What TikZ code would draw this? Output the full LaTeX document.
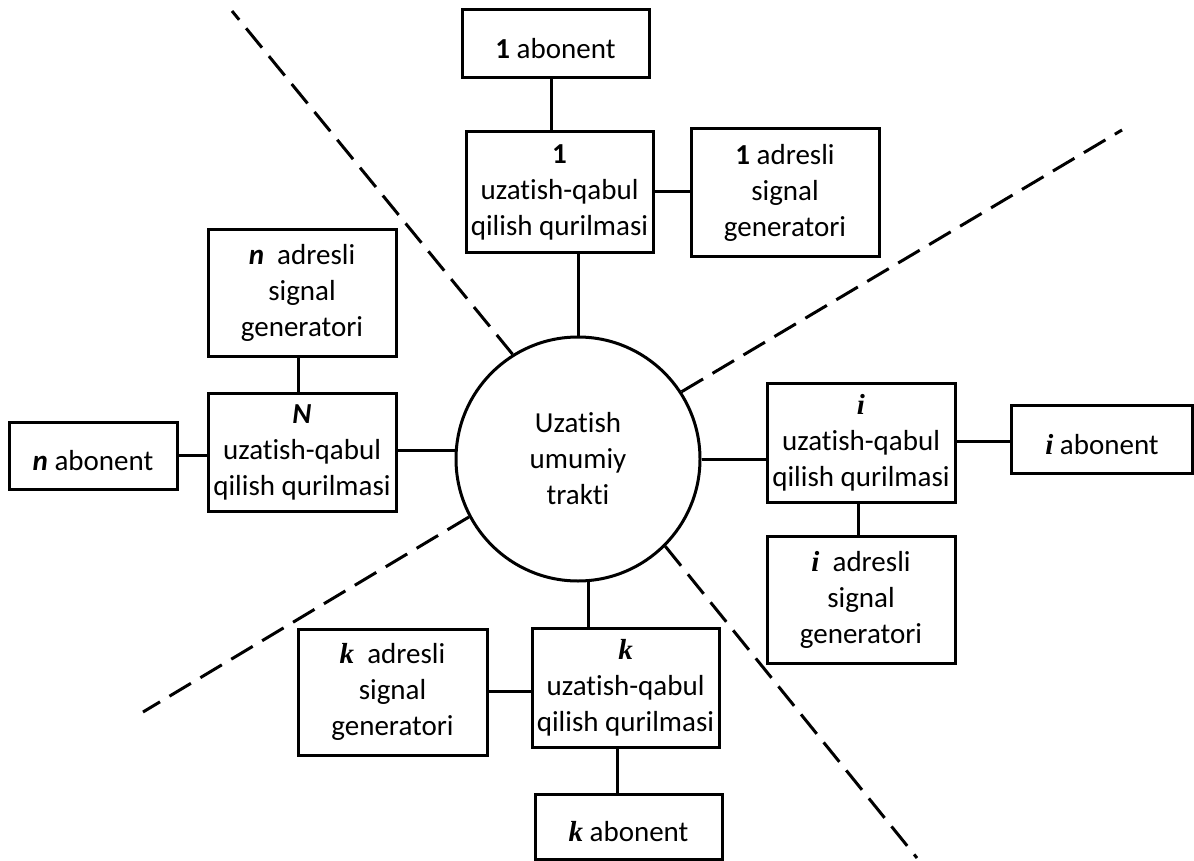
\documentclass[tikz,border=0pt]{standalone}
\usepackage{fontspec}
\setmainfont{Carlito}[Ligatures=NoCommon]
\newfontfamily\sbi{Liberation Serif}[BoldItalicFont=* Bold Italic]
\newcommand{\bi}[1]{{\sbi\bfseries\itshape #1}}
\newcommand{\cbi}[1]{\textbf{\textit{#1}}}
\begin{document}
\begin{tikzpicture}[x=1pt,y=-1pt,
  every node/.style={font=\fontsize{29}{36}\selectfont},
  blk/.style={draw,line width=3pt,rectangle,inner sep=0pt,align=center},
  abox/.style={blk,text height=30pt,text depth=0pt},
  ln/.style={line width=3pt},
  dsh/.style={line width=3pt,dash pattern=on 25pt off 11pt}]
\useasboundingbox (0,0) rectangle (1194,861);
% circle
\node[draw,circle,line width=3pt,minimum size=244pt,inner sep=0pt,align=center] (c) at (578,459) {Uzatish\\umumiy\\trakti};
% top
\node[abox,minimum width=187pt,minimum height=68pt] (ab1) at (555.5,44) {\textbf{1} abonent};
\node[blk,minimum width=187pt,minimum height=120pt] (tr1) at (559.5,192) {\textbf{1}\\uzatish-qabul\\qilish qurilmasi};
\node[blk,minimum width=188pt,minimum height=127pt] (gen1) at (785,192.5) {\textbf{1} adresli\\signal\\generatori};
% left
\node[blk,minimum width=188pt,minimum height=126pt] (genn) at (302,293) {\cbi{n}\ \ adresli\\signal\\generatori};
\node[blk,minimum width=188pt,minimum height=118pt] (trN) at (302,452) {\cbi{N}\\uzatish-qabul\\qilish qurilmasi};
\node[abox,minimum width=168pt,minimum height=67pt] (abn) at (93,455.5) {\cbi{n} abonent};
% right
\node[blk,minimum width=188pt,minimum height=119pt] (tri) at (861,442.5) {\bi{i}\\uzatish-qabul\\qilish qurilmasi};
\node[abox,minimum width=181pt,minimum height=68pt] (abi) at (1102,439) {\bi{i} abonent};
\node[blk,minimum width=188pt,minimum height=127pt] (geni) at (861,599.5) {\bi{i}\ \ adresli\\signal\\generatori};
% bottom
\node[blk,minimum width=189pt,minimum height=126pt] (genk) at (392.5,692) {\bi{k}\ \ adresli\\signal\\generatori};
\node[blk,minimum width=187pt,minimum height=119pt] (trk) at (625.5,687.5) {\bi{k}\\uzatish-qabul\\qilish qurilmasi};
\node[abox,minimum width=187pt,minimum height=65pt] (abk) at (628.5,826.5) {\bi{k} abonent};
% connectors
\draw[ln] (ab1.south -| 551,0) -- (tr1.north -| 551,0);
\draw[ln] (tr1.south -| c.north) -- (c.north);
\draw[ln] (tr1.east |- 0,192) -- (gen1.west |- 0,192);
\draw[ln] (genn.south -| 298,0) -- (trN.north -| 298,0);
\draw[ln] (abn.east |- 0,455) -- (trN.west |- 0,455);
\draw[ln] (trN.east |- c.176.2) -- (c.176.2);
\draw[ln] (c.east) -- (tri.west |- c.east);
\draw[ln] (tri.east |- 0,441) -- (abi.west |- 0,441);
\draw[ln] (tri.south -| 858,0) -- (geni.north -| 858,0);
\draw[ln] (c.-85.3) -- (trk.north -| c.-85.3);
\draw[ln] (genk.east |- 0,691) -- (trk.west |- 0,691);
\draw[ln] (trk.south -| 617,0) -- (abk.north -| 617,0);
% dashed separators
\coordinate (d1) at (232,11);
\coordinate (d2) at (1122,130);
\coordinate (d3) at (143,712);
\coordinate (d4) at (917,858);
\draw[dsh] (c.122.6) -- (d1);
\draw[dsh] (c.33.3) -- (d2);
\draw[dsh] (c.208.4) -- (d3);
\draw[dsh] (c.-45.6) -- (d4);
\end{tikzpicture}
\end{document}
